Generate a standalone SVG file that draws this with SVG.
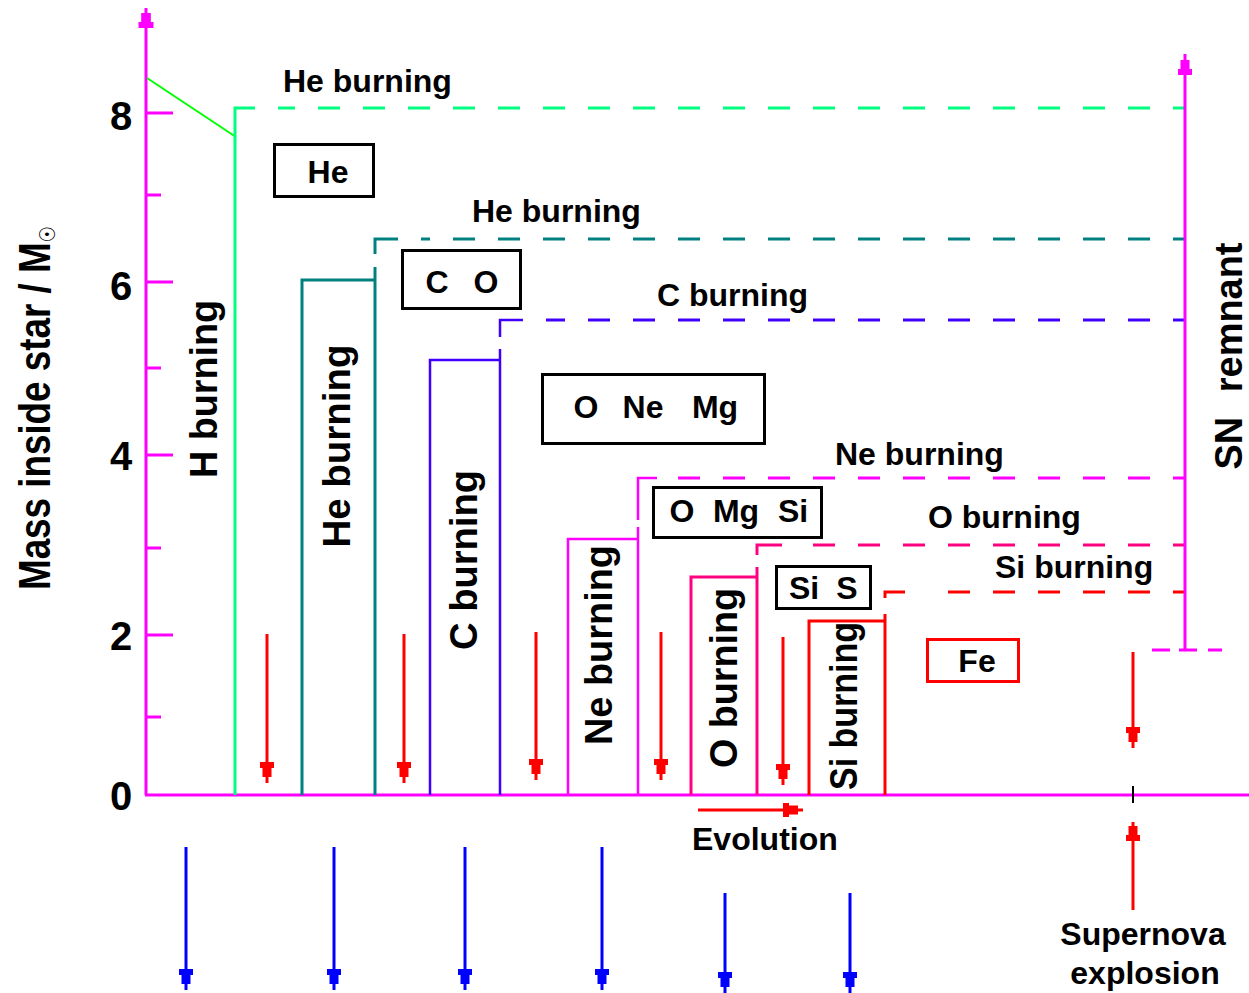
<svg xmlns="http://www.w3.org/2000/svg" width="1249" height="993" viewBox="0 0 1249 993">
<style>
text{font-family:"Liberation Sans",Arial,sans-serif;font-weight:bold;fill:#000}
.h{font-size:32px}
.v{font-size:38px;text-anchor:middle}
.num{font-size:40px;text-anchor:middle}
.box{fill:none;stroke:#000;stroke-width:3}
.ln{fill:none;stroke-width:3}
.dash{fill:none;stroke-width:3;stroke-dasharray:22 23;stroke-dashoffset:10}
.mag{stroke:#FF00FF}
.grn{stroke:#00FF80}
.tea{stroke:#008080}
.blu{stroke:#4000FF}
.pnk{stroke:#FF0080}
.red{stroke:#FF0000}
.arr{stroke-width:3}
</style>
<defs>
<path id="ah" d="M-7,0H7V6H4.5V15H-4.5V6H-7Z"/>
</defs>
<rect width="1249" height="993" fill="#fff"/>

<g id="axes">
<path class="ln mag" d="M146,8V795M145,795H1249"/>
<use href="#ah" transform="translate(146,28) rotate(180) scale(1.07,1)" fill="#FF00FF"/>
<path class="ln mag" d="M146,113H173M146,195H161M146,282H173M146,368H161M146,455H173M146,548H161M146,635H173M146,717H161"/>
<text class="num" x="121" y="130">8</text>
<text class="num" x="121" y="300">6</text>
<text class="num" x="121" y="470">4</text>
<text class="num" x="121" y="650">2</text>
<text class="num" x="121" y="810">0</text>
<text transform="translate(50,408) rotate(-90)" style="font-size:44px;text-anchor:middle" textLength="364" lengthAdjust="spacingAndGlyphs">Mass inside star / M<tspan style="font-family:'DejaVu Sans',sans-serif;font-size:22px;font-weight:normal" dy="5">☉</tspan></text>
</g>

<g id="h-zone">
<path d="M147,78L236,137" fill="none" stroke="#00FF00" stroke-width="2"/>
<path class="ln grn" d="M235,795V108H255"/>
<path class="dash grn" d="M1185,108H278"/>
<text class="v" transform="translate(217,389) rotate(-90)" textLength="178" lengthAdjust="spacingAndGlyphs">H burning</text>
<text class="h" x="283" y="92">He burning</text>
</g>

<g id="he-zone">
<path class="ln tea" d="M302,795V280H375M375,795V267M375,254V239H398"/>
<path class="dash tea" d="M1185,239H421"/>
<text class="v" transform="translate(350,446) rotate(-90)" textLength="203" lengthAdjust="spacingAndGlyphs">He burning</text>
<text class="h" x="472" y="222">He burning</text>
</g>

<g id="c-zone">
<path class="ln blu" d="M430,795V360H500M500,795V349M500,337V320H523" style="stroke-width:2.5"/>
<path class="dash blu" d="M1185,320H546"/>
<text class="v" transform="translate(477,560) rotate(-90)" textLength="180" lengthAdjust="spacingAndGlyphs">C burning</text>
<text class="h" x="657" y="306">C burning</text>
</g>

<g id="ne-zone">
<path class="ln mag" d="M568,795V539H638M638,795V527M638,520V478H657" style="stroke-width:2.5"/>
<path class="dash mag" d="M1185,478H678"/>
<text class="v" transform="translate(612,645) rotate(-90)" textLength="200" lengthAdjust="spacingAndGlyphs">Ne burning</text>
<text class="h" x="835" y="465">Ne burning</text>
</g>

<g id="o-zone">
<path class="ln pnk" d="M691,795V577H757M757,795V567M757,555V545H782"/>
<path class="dash pnk" d="M1185,545H806"/>
<text class="v" transform="translate(737,678) rotate(-90)" textLength="180" lengthAdjust="spacingAndGlyphs">O burning</text>
<text class="h" x="928" y="528">O burning</text>
</g>

<g id="si-zone">
<path class="ln red" d="M809,795V621H885M885,795V614M885,598V592H905"/>
<path class="dash red" d="M1185,592H928"/>
<text class="v" transform="translate(857,706) rotate(-90)" textLength="168" lengthAdjust="spacingAndGlyphs">Si burning</text>
<text class="h" x="995" y="578">Si burning</text>
</g>

<g id="box-he">
<rect class="box" x="274.5" y="144.5" width="99" height="52"/>
<text class="h" x="328" y="183" text-anchor="middle">He</text>
</g>
<g id="box-co">
<rect class="box" x="402.5" y="250.5" width="118" height="58"/>
<text class="h" text-anchor="middle" y="293"><tspan x="437">C</tspan><tspan x="486">O</tspan></text>
</g>
<g id="box-onemg">
<rect class="box" x="542.5" y="374.5" width="222" height="69"/>
<text class="h" text-anchor="middle" y="418"><tspan x="586">O</tspan><tspan x="643">Ne</tspan><tspan x="715">Mg</tspan></text>
</g>
<g id="box-omgsi">
<rect class="box" x="653.5" y="487.5" width="168" height="50"/>
<text class="h" text-anchor="middle" y="522"><tspan x="682">O</tspan><tspan x="736">Mg</tspan><tspan x="793">Si</tspan></text>
</g>
<g id="box-sis">
<rect class="box" x="776.5" y="566.5" width="94" height="42"/>
<text class="h" text-anchor="middle" y="599"><tspan x="804">Si</tspan><tspan x="847">S</tspan></text>
</g>
<g id="box-fe">
<rect class="box" x="927.5" y="639.5" width="91" height="42" style="stroke:#FF0000"/>
<text class="h" x="977" y="672" text-anchor="middle">Fe</text>
</g>

<g id="sn-remnant">
<path class="ln mag" d="M1185,54V650"/>
<use href="#ah" transform="translate(1185,75) rotate(180)" fill="#FF00FF"/>
<path class="ln mag" d="M1152,650H1170M1179,650H1197M1208,650H1222"/>
<text class="v" transform="translate(1242,356) rotate(-90)" textLength="227" lengthAdjust="spacingAndGlyphs">SN <tspan dx="14">remnant</tspan></text>
</g>

<g id="connectors">
<path class="arr red" d="M267,634V783M404,634V783M536,632V780M661,632V780M783,637V785M1133,652V748M1133,822V910M698,810H803"/>
<use href="#ah" transform="translate(267,762)" fill="#FF0000"/>
<use href="#ah" transform="translate(404,762)" fill="#FF0000"/>
<use href="#ah" transform="translate(536,759)" fill="#FF0000"/>
<use href="#ah" transform="translate(661,759)" fill="#FF0000"/>
<use href="#ah" transform="translate(783,764)" fill="#FF0000"/>
<use href="#ah" transform="translate(1133,727)" fill="#FF0000"/>
<use href="#ah" transform="translate(1133,841) rotate(180)" fill="#FF0000"/>
<use href="#ah" transform="translate(783,810) rotate(-90)" fill="#FF0000"/>
<path d="M1133,786V803" stroke="#000" stroke-width="2"/>
<path class="arr" stroke="#0000FF" d="M186,847V990M334,847V990M465,847V990M602,847V990M725,893V993M850,893V993"/>
<use href="#ah" transform="translate(186,969)" fill="#0000FF"/>
<use href="#ah" transform="translate(334,969)" fill="#0000FF"/>
<use href="#ah" transform="translate(465,969)" fill="#0000FF"/>
<use href="#ah" transform="translate(602,969)" fill="#0000FF"/>
<use href="#ah" transform="translate(725,972)" fill="#0000FF"/>
<use href="#ah" transform="translate(850,972)" fill="#0000FF"/>
</g>

<g id="labels">
<text class="h" x="692" y="850">Evolution</text>
<text class="h" x="1143" y="945" text-anchor="middle">Supernova</text>
<text class="h" x="1145" y="984" text-anchor="middle">explosion</text>
</g>
</svg>
